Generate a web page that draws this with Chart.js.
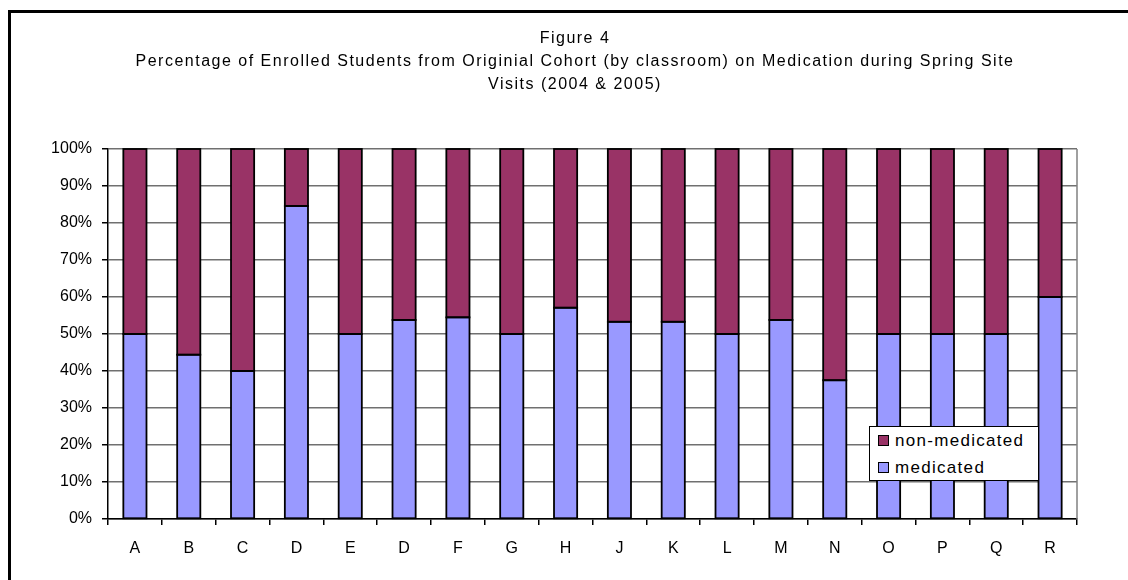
<!DOCTYPE html>
<html>
<head>
<meta charset="utf-8">
<script src="https://cdn.jsdelivr.net/npm/chart.js@4"></script>
<style>
  html, body { margin: 0; padding: 0; background: #fff; overflow: hidden; }
  #wrap { position: relative; width: 1128px; height: 580px; }
  #frame { position: absolute; left: 8px; top: 10px; right: -10px; bottom: -10px;
           border-top: 3px solid #000; border-left: 3px solid #000; pointer-events: none; }
  #chart { position: absolute; left: 0; top: 0; }
  #legend { position: absolute; left: 869px; top: 426px; width: 168px; height: 53px;
            background: #fff; border: 1px solid #000; font-family: 'Liberation Sans', Arial, sans-serif;
            font-size: 17px; letter-spacing: 1.3px; color: #000; }
  .item { position: absolute; left: 8px; height: 20px; line-height: 20px; white-space: nowrap; }
  .sw { display: inline-block; width: 9px; height: 9px; border: 1px solid #000;
        vertical-align: middle; margin-right: 6px; position: relative; top: -1px; }
</style>
</head>
<body>
<div id="wrap">
  <canvas id="chart" width="1128" height="580"></canvas>
  <div id="frame"></div>
  <div id="legend"></div>
</div>
<script>
var titleLines = [
  'Figure 4',
  'Percentage of Enrolled Students from Originial Cohort (by classroom) on Medication during Spring Site',
  'Visits (2004 & 2005)'
];
var classrooms = ['A', 'B', 'C', 'D', 'E', 'D', 'F', 'G', 'H', 'J', 'K', 'L', 'M', 'N', 'O', 'P', 'Q', 'R'];
var medicated = [50, 44.4, 40, 84.6, 50, 53.8, 54.5, 50, 57.1, 53.3, 53.3, 50, 53.8, 37.5, 50, 50, 50, 60];
var nonMedicated = [50, 55.6, 60, 15.4, 50, 46.2, 45.5, 50, 42.9, 46.7, 46.7, 50, 46.2, 62.5, 50, 50, 50, 40];
var seriesNames = ['medicated', 'non-medicated'];
var colors = ['#9999ff', '#993366'];

Chart.defaults.font.family = "'Liberation Sans', Arial, sans-serif";
Chart.defaults.font.size = 16;
Chart.defaults.color = '#000';

// black outlines round every bar segment, taken from the bar elements
var outlines = {
  id: 'outlines',
  afterDatasetsDraw: function (chart) {
    var ctx = chart.ctx;
    ctx.save();
    ctx.strokeStyle = '#000';
    ctx.lineWidth = 1.8;
    chart.data.datasets.forEach(function (ds, i) {
      chart.getDatasetMeta(i).data.forEach(function (bar) {
        var p = bar.getProps(['x', 'y', 'base', 'width'], true);
        var top = Math.min(p.y, p.base), h = Math.abs(p.base - p.y);
        ctx.strokeRect(p.x - p.width / 2, top, p.width, h);
      });
    });
    ctx.restore();
  }
};

// title text + right edge of the plot area
var extras = {
  id: 'extras',
  afterDraw: function (chart) {
    var ctx = chart.ctx;
    var a = chart.chartArea;
    ctx.save();
    ctx.strokeStyle = '#808080';
    ctx.lineWidth = 1.5;
    ctx.beginPath();
    ctx.moveTo(a.right, a.top);
    ctx.lineTo(a.right, a.bottom);
    ctx.stroke();
    ctx.fillStyle = '#000';
    ctx.font = "16px 'Liberation Sans', Arial, sans-serif";
    ctx.letterSpacing = '1.5px';
    ctx.textAlign = 'center';
    ctx.textBaseline = 'alphabetic';
    for (var i = 0; i < titleLines.length; i++) {
      ctx.fillText(titleLines[i], 575, 43 + i * 23);
    }
    ctx.restore();
  }
};

new Chart(document.getElementById('chart'), {
  type: 'bar',
  data: {
    labels: classrooms,
    datasets: [
      { label: seriesNames[0], data: medicated, backgroundColor: colors[0], borderWidth: 0 },
      { label: seriesNames[1], data: nonMedicated, backgroundColor: colors[1], borderWidth: 0 }
    ]
  },
  options: {
    responsive: false,
    animation: false,
    layout: { padding: { top: 149, right: 51, left: 0, bottom: 0 } },
    datasets: { bar: { categoryPercentage: 1, barPercentage: 0.43, inflateAmount: 0 } },
    plugins: { legend: { display: false }, title: { display: false }, tooltip: { enabled: false } },
    scales: {
      x: {
        stacked: true,
        afterFit: function (s) { s.height = 61; },
        border: { color: '#000', width: 1.5 },
        grid: { drawOnChartArea: false, tickLength: 6, tickColor: '#000', lineWidth: 1.5 },
        ticks: { padding: 14, color: '#000' }
      },
      y: {
        stacked: true,
        min: 0,
        max: 100,
        afterFit: function (s) { s.width = 108; },
        border: { color: '#000', width: 1.5 },
        grid: { color: '#707070', lineWidth: 1.5, tickLength: 6, tickColor: '#000' },
        ticks: { stepSize: 10, padding: 10, color: '#000',
                 callback: function (v) { return v + '%'; } }
      }
    }
  },
  plugins: [outlines, extras]
});

// legend box inside the plot, top entry first like the original
var legend = document.getElementById('legend');
[1, 0].forEach(function (k, row) {
  var d = document.createElement('div');
  d.className = 'item';
  d.style.top = (4 + row * 27) + 'px';
  d.innerHTML = '<span class="sw" style="background:' + colors[k] + '"></span>' + seriesNames[k];
  legend.appendChild(d);
});
</script>
</body>
</html>
